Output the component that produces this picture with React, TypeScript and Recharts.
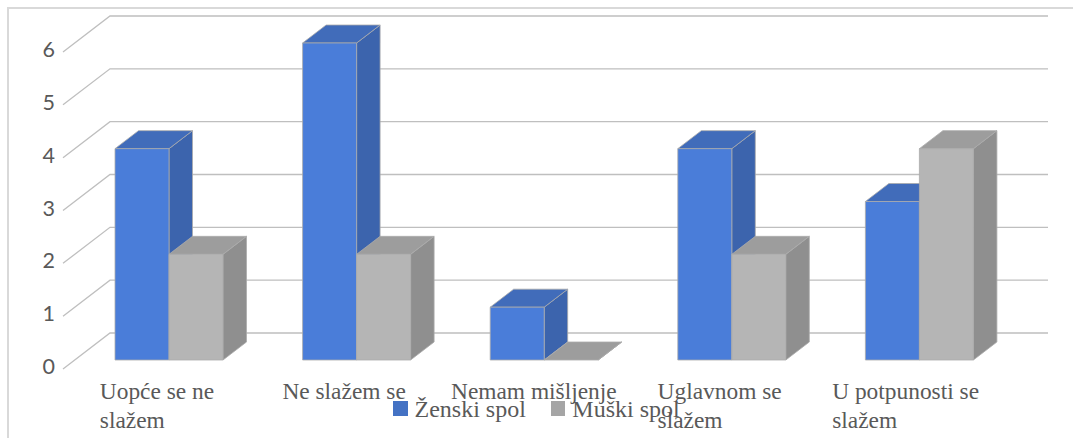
import { BarChart, Bar, XAxis, YAxis, CartesianGrid, Legend } from "recharts";

const categories = [
  "Uopće se ne\nslažem",
  "Ne slažem se",
  "Nemam mišljenje",
  "Uglavnom se\nslažem",
  "U potpunosti se\nslažem",
];
const zenskiSpol = [4, 6, 1, 4, 3];
const muskiSpol = [2, 2, 0, 2, 4];
const yTicks = [0, 1, 2, 3, 4, 5, 6];

const data = categories.map((name, i) => ({
  name,
  zenski: zenskiSpol[i],
  muski: muskiSpol[i],
}));

// how far left of the group centre each label starts
const labelShift = [69, 74, 93, 74, 87];

// 3d look
const depthX = 23.5;
const depthY = 18;
const edge = "#ABABAB";

const blueFaces = { front: "#4A7DD9", top: "#416CBA", side: "#3C64AD" };
const greyFaces = { front: "#B5B5B5", top: "#9D9D9D", side: "#8F8F8F" };

const serif = '"Liberation Serif", serif';
const textColor = "#595959";

const Box3d = ({ x, y, width, height, faces }: any) => {
  const r = x + width;
  const b = y + height;
  return (
    <g stroke={edge} strokeWidth={0.8} strokeLinejoin="round">
      <polygon
        fill={faces.side}
        points={`${r},${y} ${r + depthX},${y - depthY} ${r + depthX},${b - depthY} ${r},${b}`}
      />
      <polygon
        fill={faces.top}
        points={`${x},${y} ${x + depthX},${y - depthY} ${r + depthX},${y - depthY} ${r},${y}`}
      />
      {height > 0 && <rect x={x} y={y} width={width} height={height} fill={faces.front} />}
    </g>
  );
};

// floor edge, then the diagonal up the side wall, then across the back wall
const WallLine = ({ x1, x2, y1 }: any) => (
  <polyline
    fill="none"
    stroke="#BFBFBF"
    strokeWidth={1.3}
    points={`${x1 - 12},${y1 + 9} ${x1 + 35},${y1 - 27} ${x2 + 35},${y1 - 27}`}
  />
);

const CategoryTick = ({ x, y, payload, index }: any) => {
  const lines = String(payload.value).split("\n");
  return (
    <text
      x={x - labelShift[index]}
      y={y}
      fontFamily={serif}
      fontSize={23.4}
      fill={textColor}
    >
      {lines.map((line, i) => (
        <tspan key={i} x={x - labelShift[index]} dy={i === 0 ? 31 : 28.5}>
          {line}
        </tspan>
      ))}
    </text>
  );
};

const ValueTick = ({ y, payload }: any) => (
  <text
    x={55}
    y={y + 14}
    textAnchor="end"
    fontFamily="Lato, sans-serif"
    fontSize={21.5}
    fill={textColor}
  >
    {payload.value}
  </text>
);

const LegendRow = ({ payload }: any) => (
  <div style={{ display: "flex", fontFamily: serif, fontSize: 24, color: textColor, lineHeight: "26px" }}>
    {(payload || []).map((item: any) => (
      <div key={item.value} style={{ display: "flex", alignItems: "center", marginRight: 25 }}>
        <span style={{ width: 14.5, height: 14.5, background: item.color, marginRight: 7 }} />
        {item.value}
      </div>
    ))}
  </div>
);

export default function App() {
  return (
    <div style={{ position: "absolute", left: 0, top: 0, width: 1073, height: 438, overflow: "hidden", background: "#fff" }}>
      <div style={{ position: "absolute", left: 7, top: 7, width: 1100, height: 500, borderLeft: "2px solid #D9D9D9", borderTop: "2px solid #D9D9D9" }} />
      <div style={{ position: "absolute", left: 0, top: 0 }}>
        <BarChart
          width={1073}
          height={438}
          data={data}
          margin={{ top: 43, right: 60, bottom: 0, left: 0 }}
          barCategoryGap={40}
          barGap={0}
        >
          <CartesianGrid vertical={false} horizontal={(props: any) => <WallLine key={props.key ?? props.y1} {...props} />} />
          <XAxis dataKey="name" height={52} interval={0} axisLine={false} tickLine={false} tick={<CategoryTick />} />
          <YAxis width={75} domain={[0, 6]} ticks={yTicks} interval={0} axisLine={false} tickLine={false} tick={<ValueTick />} />
          <Legend
            content={<LegendRow />}
            itemSorter={null}
            wrapperStyle={{ left: 393, top: 395.5, width: 400, bottom: "auto" }}
          />
          <Bar
            dataKey="zenski"
            name="Ženski spol"
            fill="#4472C4"
            isAnimationActive={false}
            shape={(props: any) => <Box3d {...props} faces={blueFaces} />}
          />
          <Bar
            dataKey="muski"
            name="Muški spol"
            fill="#A5A5A5"
            isAnimationActive={false}
            shape={(props: any) => <Box3d {...props} faces={greyFaces} />}
          />
        </BarChart>
      </div>
    </div>
  );
}
